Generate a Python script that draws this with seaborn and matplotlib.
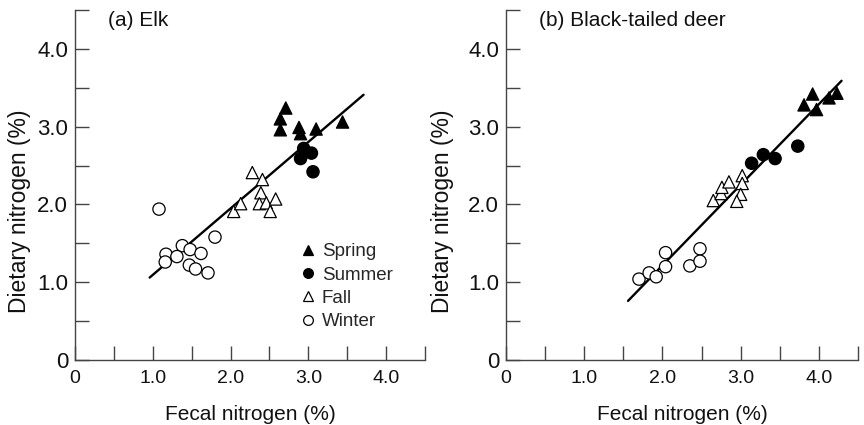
import matplotlib
matplotlib.use("Agg")
import matplotlib.pyplot as plt
import seaborn as sns
import pandas as pd
from matplotlib.lines import Line2D
from matplotlib.ticker import FixedLocator, FixedFormatter

sns.set_theme(style="white")
plt.rcParams['font.family'] = ['Liberation Sans', 'DejaVu Sans']

# ---------------- data ----------------
seasons = ["Spring", "Summer", "Fall", "Winter"]

# (a) Elk
elk_spring_x = [2.71, 2.64, 2.64, 2.88, 2.90, 3.10, 3.44]
elk_spring_y = [3.24, 3.10, 2.96, 2.99, 2.91, 2.97, 3.06]
elk_summer_x = [2.94, 2.90, 3.04, 3.06]
elk_summer_y = [2.72, 2.59, 2.66, 2.42]
elk_fall_x = [2.28, 2.41, 2.39, 2.37, 2.46, 2.58, 2.51, 2.04, 2.13]
elk_fall_y = [2.41, 2.32, 2.15, 2.01, 2.02, 2.07, 1.91, 1.91, 2.01]
elk_winter_x = [1.08, 1.80, 1.38, 1.48, 1.62, 1.17, 1.16, 1.31, 1.47, 1.55, 1.71]
elk_winter_y = [1.94, 1.58, 1.47, 1.42, 1.37, 1.36, 1.26, 1.33, 1.22, 1.17, 1.12]
elk_line_x = [0.96, 3.71]
elk_line_y = [1.06, 3.41]

# (b) Black-tailed deer
deer_spring_x = [3.81, 3.92, 3.97, 4.13, 4.23]
deer_spring_y = [3.28, 3.42, 3.22, 3.37, 3.43]
deer_summer_x = [3.14, 3.29, 3.44, 3.73]
deer_summer_y = [2.53, 2.64, 2.59, 2.75]
deer_fall_x = [2.65, 2.75, 2.76, 2.85, 3.02, 3.02, 3.00, 2.95]
deer_fall_y = [2.05, 2.14, 2.22, 2.29, 2.37, 2.27, 2.13, 2.04]
deer_winter_x = [1.70, 1.83, 1.92, 2.04, 2.04, 2.35, 2.48, 2.48]
deer_winter_y = [1.04, 1.12, 1.07, 1.38, 1.20, 1.21, 1.43, 1.27]
deer_line_x = [1.56, 4.29]
deer_line_y = [0.76, 3.59]

tick_values = [0, 0.5, 1.0, 1.5, 2.0, 2.5, 3.0, 3.5, 4.0, 4.5]
tick_labels = ["0", "", "1.0", "", "2.0", "", "3.0", "", "4.0", ""]

panel_titles = ["(a) Elk", "(b) Black-tailed deer"]
x_label = "Fecal nitrogen (%)"
y_label = "Dietary nitrogen (%)"


def make_df(sx, sy, mx, my, fx, fy, wx, wy):
    rows = []
    for name, xs, ys in zip(seasons, [sx, mx, fx, wx], [sy, my, fy, wy]):
        for a, b in zip(xs, ys):
            rows.append({"fecal": a, "dietary": b, "season": name})
    return pd.DataFrame(rows)


elk_df = make_df(elk_spring_x, elk_spring_y, elk_summer_x, elk_summer_y,
                 elk_fall_x, elk_fall_y, elk_winter_x, elk_winter_y)
deer_df = make_df(deer_spring_x, deer_spring_y, deer_summer_x, deer_summer_y,
                  deer_fall_x, deer_fall_y, deer_winter_x, deer_winter_y)

palette = {"Spring": "black", "Summer": "black", "Fall": "white", "Winter": "white"}
markers = {"Spring": "^", "Summer": "o", "Fall": "^", "Winter": "o"}

fig = plt.figure(figsize=(8.64, 4.25), dpi=100)
ax1 = fig.add_axes([75 / 864, 65 / 425, 350 / 864, 350 / 425])
ax2 = fig.add_axes([506 / 864, 65 / 425, 352 / 864, 350 / 425])

ylabel_x = [-0.126, -0.148]

for i, (ax, df, lx, ly, title) in enumerate(
        [(ax1, elk_df, elk_line_x, elk_line_y, panel_titles[0]),
         (ax2, deer_df, deer_line_x, deer_line_y, panel_titles[1])]):
    sns.lineplot(x=lx, y=ly, ax=ax, color="black", linewidth=1.7, zorder=2)
    sns.scatterplot(data=df, x="fecal", y="dietary", hue="season", style="season",
                    palette=palette, markers=markers, edgecolor="black",
                    linewidth=0.9, s=78, ax=ax, legend=False, zorder=3)
    ax.set_xlim(0, 4.5)
    ax.set_ylim(0, 4.5)
    ax.xaxis.set_major_locator(FixedLocator(tick_values))
    ax.xaxis.set_major_formatter(FixedFormatter(tick_labels))
    ax.yaxis.set_major_locator(FixedLocator(tick_values))
    ax.yaxis.set_major_formatter(FixedFormatter(tick_labels))
    ax.tick_params(direction="in", length=10, width=1.0, color="#444444",
                   bottom=True, left=True, labelcolor="#111111")
    ax.tick_params(axis="x", labelsize=14, pad=7.5)
    ax.tick_params(axis="y", labelsize=16, pad=5)
    for side in ["top", "right"]:
        ax.spines[side].set_visible(False)
    for side in ["left", "bottom"]:
        ax.spines[side].set_color("#444444")
        ax.spines[side].set_linewidth(1.0)
    ax.set_xlabel(x_label, fontsize=15, labelpad=13, color="#111111")
    ax.set_ylabel(y_label, fontsize=16.5, color="#111111")
    ax.yaxis.set_label_coords(ylabel_x[i], 0.426)
    ax.text(0.094, 0.997, title, transform=ax.transAxes, fontsize=15,
            va="top", ha="left", color="#111111")
    ax.set_facecolor("white")

handles = [
    Line2D([], [], linestyle="none", marker=markers[s], markersize=7,
           markerfacecolor=palette[s], markeredgecolor="black", markeredgewidth=0.9)
    for s in seasons
]
ax1.legend(handles, seasons, loc="upper left", bbox_to_anchor=(0.644, 0.334),
           frameon=False, fontsize=13.5, handlelength=0.8, handletextpad=0.35,
           labelspacing=0.33, borderpad=0, borderaxespad=0)

fig.savefig("out.png", dpi=100, facecolor="white")
